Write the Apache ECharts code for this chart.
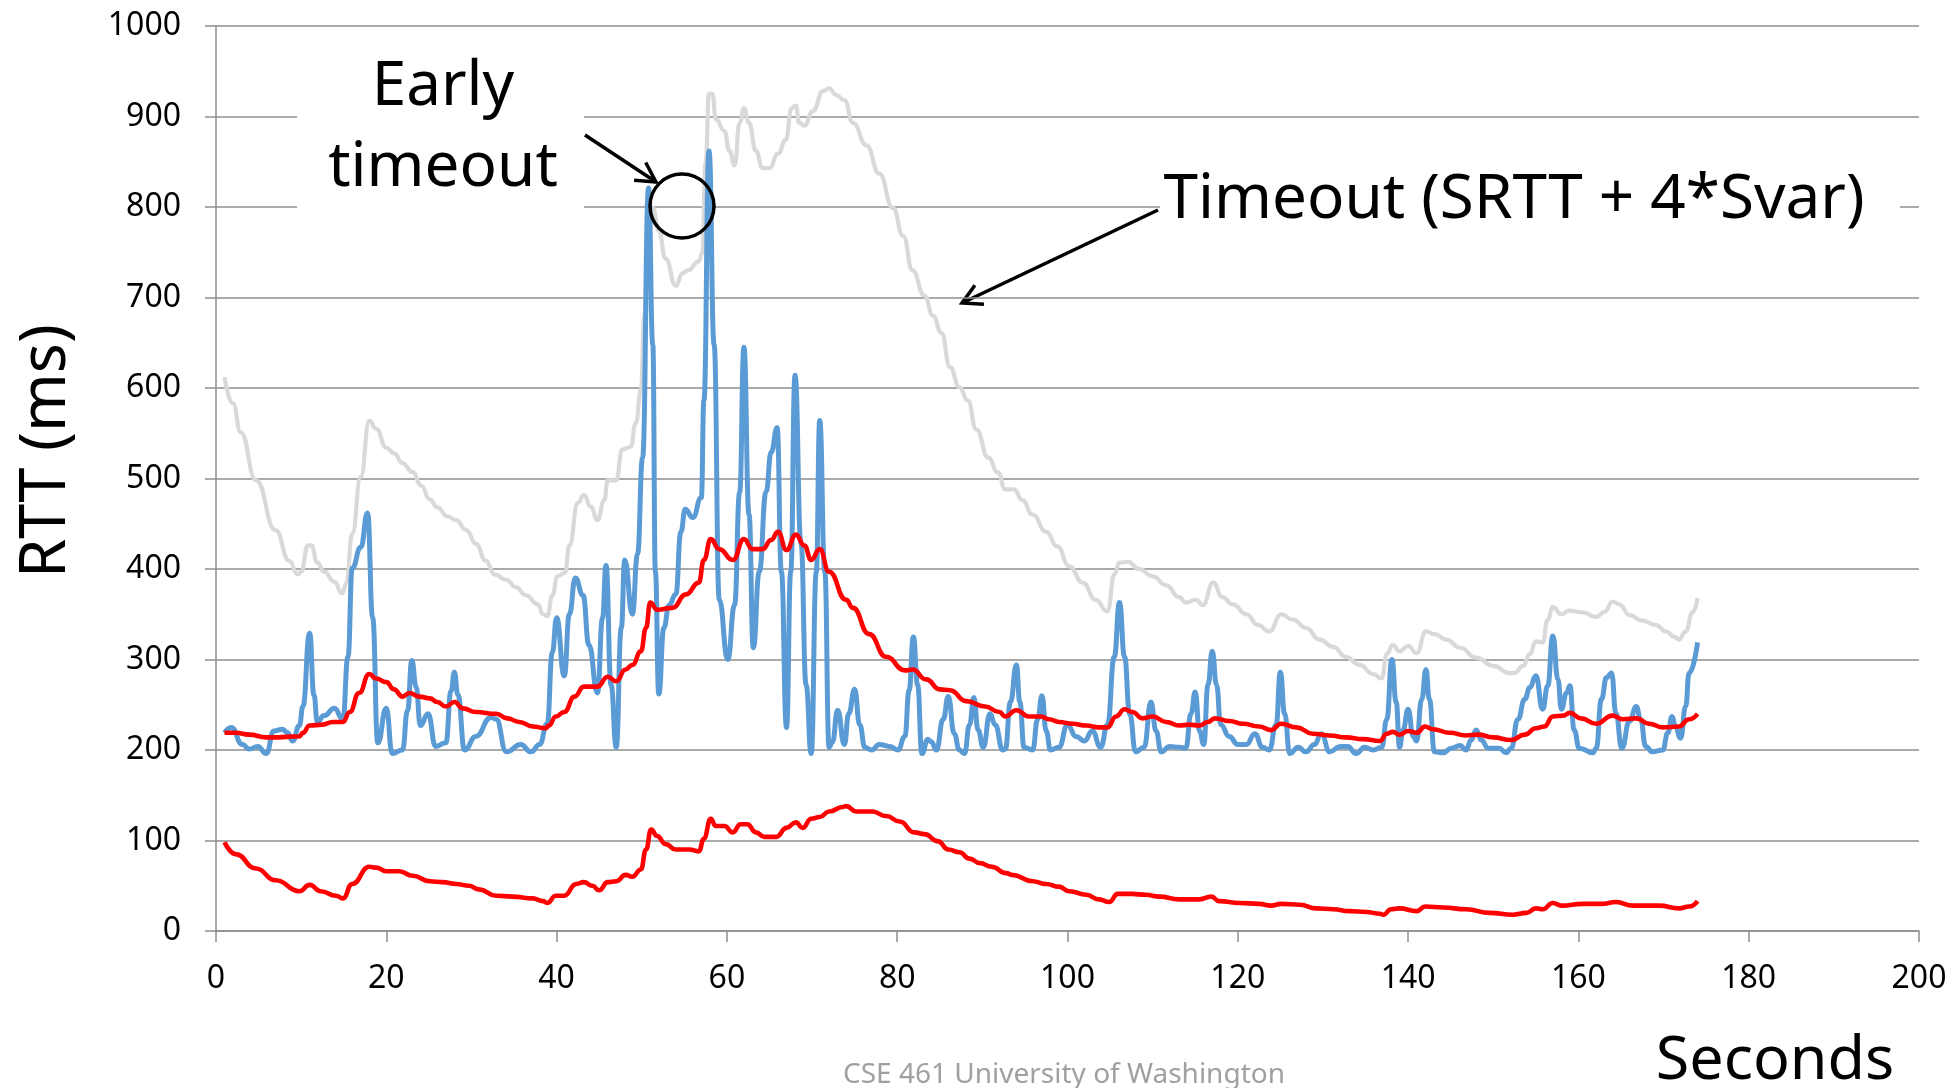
<!DOCTYPE html>
<html>
<head>
<meta charset="utf-8">
<title>RTT, SRTT and timeout</title>
<script src="https://cdn.jsdelivr.net/npm/echarts@6/dist/echarts.min.js"></script>
<style>
  html, body { margin: 0; padding: 0; background: #fff; }
  #chart { width: 1956px; height: 1088px; }
</style>
</head>
<body>
<div id="chart"></div>
<script>
// [seconds, ms]
const sampleRtt = [
  [1.0,219],[1.8,225],[3.1,206],[3.9,201],[4.9,204],[5.9,196],[6.8,221],[7.8,223],[8.4,219],[9.0,210],
  [9.8,227],[10.2,248],[11.0,329],[11.5,261],[11.9,231],[12.7,238],[13.9,246],[14.9,234],[15.5,303],[16.0,401],
  [17.0,424],[17.8,462],[18.4,346],[19.0,208],[20.0,246],[20.7,196],[21.9,200],[22.5,244],[23.0,299],[23.5,270],
  [24.0,227],[24.9,240],[25.8,204],[27.0,208],[27.6,265],[28.0,286],[28.4,261],[29.2,200],[30.5,215],[32.3,236],
  [32.9,234],[34.1,198],[35.8,206],[37.0,198],[38.0,206],[38.9,229],[39.5,308],[40.0,346],[40.9,282],[41.5,350],
  [42.2,390],[43.1,371],[43.8,316],[44.8,263],[45.4,346],[45.8,404],[46.4,272],[47.0,203],[47.6,335],[48.0,410],
  [48.9,350],[49.5,416],[50.1,523],[50.8,821],[51.3,648],[51.6,397],[52.0,262],[52.6,335],[53.2,360],[54.0,372],
  [54.6,441],[55.1,466],[56.0,457],[57.0,479],[57.3,586],[57.9,862],[58.5,648],[59.1,366],[60.1,300],[60.9,360],
  [61.5,485],[62.0,645],[62.6,460],[63.1,313],[63.8,397],[64.6,485],[65.2,529],[65.9,556],[66.4,397],[67.0,225],
  [67.5,397],[68.0,614],[68.7,429],[69.3,272],[69.9,196],[70.5,397],[70.9,564],[71.5,397],[72.0,203],[72.4,209],
  [73.0,244],[73.8,206],[74.3,240],[75.0,267],[75.6,228],[76.2,203],[77.0,200],[77.9,206],[79.1,204],[80.1,200],
  [80.9,215],[81.4,266],[81.9,325],[82.4,272],[82.9,196],[83.6,212],[84.0,209],[84.6,200],[85.4,234],[86.0,259],
  [86.7,218],[87.3,200],[87.9,196],[88.5,228],[89.0,258],[89.5,222],[90.1,203],[90.9,240],[91.5,228],[92.4,200],
  [92.7,201],[93.3,253],[94.0,294],[94.4,253],[94.9,203],[95.9,200],[96.5,234],[97.0,260],[97.5,221],[98.0,200],
  [99.0,203],[100.0,228],[101.0,215],[102.0,210],[102.9,221],[103.9,203],[104.7,228],[105.5,303],[106.1,363],[106.7,303],
  [107.3,240],[108.0,198],[109.0,203],[109.8,253],[110.4,221],[111.0,198],[112.0,204],[113.1,203],[113.9,202],[114.5,240],
  [115.0,264],[115.5,221],[116.0,206],[116.5,272],[117.0,309],[117.5,272],[118.0,228],[119.0,215],[120.0,206],[121.0,206],
  [122.0,218],[122.9,203],[123.7,200],[124.5,228],[125.0,286],[125.5,240],[126.1,196],[127.1,203],[128.0,198],[129.0,206],
  [129.8,218],[130.8,198],[132.0,204],[132.9,204],[133.9,196],[134.9,203],[135.9,200],[136.9,203],[137.5,234],[138.1,300],
  [138.6,253],[139.0,203],[139.4,222],[140.0,245],[140.6,215],[141.0,210],[141.6,256],[142.1,289],[142.5,256],[143.1,198],
  [144.1,197],[145.1,202],[146.1,205],[146.8,200],[147.4,211],[148.0,222],[148.6,211],[149.4,202],[150.7,202],[151.5,197],
  [152.1,202],[152.9,234],[153.7,256],[154.3,269],[155.0,282],[155.8,245],[156.4,271],[157.0,326],[157.6,278],[158.0,245],
  [158.6,263],[159.0,271],[159.5,222],[160.1,202],[161.7,197],[162.1,202],[162.7,256],[163.3,280],[163.9,285],[164.4,241],
  [165.1,202],[166.0,232],[166.8,248],[167.3,234],[167.9,204],[168.7,198],[169.9,200],[170.5,219],[171.0,237],[171.4,226],
  [172.0,213],[172.6,248],[173.0,285],[174.0,319]
];

const timeout = [
  [1.0,612],[2.0,583],[2.9,551],[4.7,498],[7.0,443],[8.6,409],[9.6,394],[10.0,397],[10.8,426],[11.2,426],
  [11.9,407],[12.7,397],[13.9,386],[14.8,373],[15.3,384],[16.0,439],[17.0,502],[18.0,564],[18.8,555],[20.0,534],
  [20.9,528],[21.9,517],[23.1,507],[24.1,492],[25.1,477],[26.0,468],[27.2,458],[28.2,454],[29.4,443],[30.5,428],
  [31.7,409],[32.7,394],[34.1,388],[35.2,380],[36.4,371],[37.8,361],[38.4,350],[38.9,348],[39.5,371],[40.1,392],
  [41.0,396],[41.5,426],[42.5,473],[43.2,482],[44.0,469],[44.8,454],[45.6,476],[46.0,498],[47.0,498],[47.7,532],
  [48.7,535],[49.3,561],[49.9,598],[50.3,680],[50.8,793],[51.3,799],[52.0,774],[52.8,743],[54.0,713],[54.8,727],
  [55.4,730],[56.7,740],[57.1,749],[57.5,849],[57.9,925],[58.3,925],[58.7,897],[59.7,884],[60.3,862],[60.9,846],
  [61.5,893],[62.0,909],[62.6,893],[63.4,862],[64.2,843],[65.0,843],[66.0,859],[66.9,874],[67.6,909],[68.1,912],
  [68.5,893],[69.1,890],[70.1,906],[71.3,928],[72.0,931],[72.8,924],[73.8,918],[74.8,893],[76.4,868],[77.9,837],
  [79.5,799],[80.7,768],[81.8,730],[83.2,702],[84.2,680],[85.2,661],[86.2,623],[87.3,601],[88.3,586],[89.3,554],
  [90.7,523],[91.8,507],[92.7,488],[93.7,488],[94.7,476],[95.9,460],[97.5,441],[98.8,425],[100.2,403],[101.8,385],
  [103.3,366],[104.7,353],[105.5,394],[106.1,407],[107.1,408],[108.4,400],[110.0,392],[111.6,382],[113.1,369],[113.9,363],
  [115.1,366],[115.9,360],[117.1,385],[118.2,369],[119.4,361],[121.0,350],[122.4,338],[123.7,331],[125.1,350],[126.5,344],
  [128.0,335],[129.6,322],[131.2,314],[132.7,303],[134.3,294],[135.9,284],[136.9,279],[137.5,306],[138.2,316],[139.0,309],
  [140.0,315],[141.0,307],[142.1,331],[143.1,328],[144.5,322],[146.1,313],[148.0,302],[150.0,293],[151.9,285],[152.5,285],
  [153.5,293],[154.3,306],[155.0,320],[155.8,319],[156.4,344],[157.0,358],[158.0,350],[158.9,354],[160.5,352],[162.1,347],
  [163.1,353],[164.0,364],[164.8,361],[166.0,349],[167.5,343],[169.1,338],[170.3,331],[171.3,325],[171.8,322],[172.6,331],
  [173.4,352],[174.0,368]
];

const srtt = [
  [1.0,219],[2.3,219],[3.9,217],[5.9,214],[7.4,214],[9.0,215],[9.8,215],[10.2,219],[11.0,227],[12.5,228],
  [13.7,231],[14.9,231],[15.7,242],[16.8,263],[18.0,284],[18.8,279],[20.0,275],[20.9,267],[21.9,259],[22.7,263],
  [23.9,259],[25.1,257],[26.0,253],[27.0,248],[28.0,253],[29.0,246],[30.5,242],[32.9,240],[34.2,235],[35.6,231],
  [37.2,226],[38.7,224],[39.1,227],[39.9,237],[40.9,242],[42.1,259],[43.2,270],[44.8,270],[46.0,281],[47.0,276],
  [48.1,289],[48.9,294],[49.9,309],[50.5,335],[51.0,363],[51.8,355],[53.6,357],[55.2,372],[56.7,385],[57.3,410],
  [58.1,433],[59.1,422],[60.7,410],[62.0,433],[63.0,422],[64.2,422],[65.2,432],[66.0,441],[67.0,421],[68.1,438],
  [69.1,426],[69.9,410],[70.9,422],[72.0,397],[74.0,366],[74.8,357],[76.7,328],[78.7,303],[80.9,288],[81.8,289],
  [83.4,278],[85.0,267],[86.2,266],[88.1,254],[90.3,248],[92.0,242],[92.7,237],[94.0,244],[95.5,237],[96.9,237],
  [97.8,234],[99.0,231],[100.6,229],[102.2,227],[103.7,225],[104.7,225],[105.7,237],[106.7,245],[107.6,242],[108.8,235],
  [110.0,237],[111.6,231],[113.1,227],[114.3,228],[115.5,227],[116.5,231],[117.3,235],[119.0,232],[120.6,229],[122.5,226],
  [123.9,222],[125.1,229],[126.9,225],[128.8,218],[130.8,216],[132.7,214],[134.7,212],[136.7,210],[137.5,218],[138.2,220],
  [139.0,217],[140.0,221],[141.0,219],[142.0,226],[142.9,223],[144.9,219],[146.8,216],[148.2,217],[150.0,214],[152.1,211],
  [153.7,217],[155.0,224],[156.0,226],[157.0,237],[158.2,238],[159.0,241],[160.3,235],[162.1,229],[164.0,238],[165.2,234],
  [166.8,235],[168.3,229],[169.9,225],[171.8,226],[173.0,234],[174.0,240]
];

const svar = [
  [1.0,98],[2.3,85],[4.7,69],[7.0,56],[9.8,44],[11.0,51],[12.3,44],[14.1,39],[14.9,36],[16.0,52],
  [18.0,71],[18.8,70],[20.0,66],[21.5,66],[23.1,61],[25.1,55],[26.6,54],[28.2,52],[29.7,50],[30.9,46],
  [32.9,39],[34.8,38],[37.2,36],[38.4,33],[38.9,31],[39.9,39],[40.9,39],[42.3,52],[43.2,54],[44.2,50],
  [45.0,45],[46.0,54],[47.0,55],[48.1,62],[48.9,60],[49.9,68],[50.5,90],[51.1,112],[51.8,105],[52.8,96],
  [54.0,90],[55.6,90],[56.7,88],[57.3,102],[58.1,124],[58.7,116],[59.7,116],[60.7,109],[61.6,118],[62.4,118],
  [63.4,109],[64.4,104],[65.8,104],[67.0,114],[68.1,120],[68.9,114],[69.9,124],[70.9,126],[72.0,132],[73.6,137],
  [74.0,138],[75.2,132],[77.1,132],[78.7,127],[80.3,121],[82.0,109],[83.2,107],[84.8,99],[86.0,90],[87.3,87],
  [88.5,80],[89.7,75],[91.1,71],[92.8,64],[93.5,62],[95.9,55],[97.5,52],[99.0,49],[100.2,44],[102.2,40],
  [103.7,35],[104.9,32],[105.9,41],[107.6,41],[109.2,40],[110.8,38],[113.1,35],[115.5,35],[116.9,38],[117.8,33],
  [120.2,31],[122.5,30],[123.9,28],[125.1,30],[127.3,29],[129.2,25],[131.2,24],[133.1,22],[135.1,21],[136.7,19],
  [137.1,18],[138.0,24],[139.0,25],[141.0,22],[142.0,27],[144.1,26],[146.8,24],[149.6,20],[152.3,18],[153.9,20],
  [155.0,25],[155.8,24],[157.0,31],[158.0,28],[160.5,30],[162.7,30],[164.4,32],[166.4,28],[169.5,28],[171.8,25],
  [173.0,27],[174.0,33]
];

const xRange = [0, 200];
const yRange = [0, 1000];

const font = '"Noto Sans", "DejaVu Sans", sans-serif';
const gridColor = '#8e8e8e';

function arrow(x1, y1, x2, y2) {
  const a = Math.atan2(y2 - y1, x2 - x1);
  const len = 22, spread = 0.5;
  const head = s => [x2 - len * Math.cos(a + s), y2 - len * Math.sin(a + s)];
  return {
    type: 'group', z: 100,
    children: [
      { type: 'line', shape: { x1, y1, x2, y2 }, style: { stroke: '#000', lineWidth: 3.5 } },
      { type: 'polyline', shape: { points: [head(spread), [x2, y2], head(-spread)] },
        style: { stroke: '#000', lineWidth: 3.5, fill: null } }
    ]
  };
}

function lineSeries(name, data, color, width) {
  return {
    name, type: 'line', data,
    symbol: 'none', smooth: 0.5, smoothMonotone: 'x',
    lineStyle: { color, width },
    emphasis: { disabled: true },
    animation: false
  };
}

const chart = echarts.init(document.getElementById('chart'));
chart.setOption({
  backgroundColor: '#fff',
  animation: false,
  grid: { left: 216, right: 37, top: 26, bottom: 157 },
  xAxis: {
    type: 'value', min: xRange[0], max: xRange[1], interval: 20,
    axisLine: { lineStyle: { color: gridColor, width: 1.5 } },
    axisTick: { show: true, length: 11, lineStyle: { color: gridColor, width: 1.5 } },
    axisLabel: { color: '#000', fontFamily: font, fontSize: 32, margin: 32 },
    splitLine: { show: false }
  },
  yAxis: {
    type: 'value', min: yRange[0], max: yRange[1], interval: 100,
    axisLine: { show: true, lineStyle: { color: gridColor, width: 1.5 } },
    axisTick: { show: true, length: 11, lineStyle: { color: gridColor, width: 1.5 } },
    axisLabel: { color: '#000', fontFamily: font, fontSize: 32, margin: 35, formatter: v => String(v) },
    splitLine: { show: true, lineStyle: { color: gridColor, width: 1.5 } }
  },
  series: [
    lineSeries('Timeout', timeout, '#d9d9d9', 4.2),
    lineSeries('Sample RTT', sampleRtt, '#5b9bd5', 5),
    lineSeries('SRTT', srtt, '#ff0000', 4.6),
    lineSeries('Svar', svar, '#ff0000', 4.6)
  ],
  graphic: [
    { type: 'text', z: 100, x: 47, y: 451, rotation: Math.PI / 2,
      style: { text: 'RTT (ms)', fontFamily: font, fontSize: 63, fill: '#000', align: 'center', verticalAlign: 'middle' } },
    { type: 'rect', z: 99, shape: { x: 297, y: 40, width: 287, height: 178 }, style: { fill: '#fff' } },
    { type: 'text', z: 100, x: 443, y: 87,
      style: { text: 'Early', fontFamily: font, fontSize: 62, fill: '#000', align: 'center', verticalAlign: 'middle' } },
    { type: 'text', z: 100, x: 443, y: 168,
      style: { text: 'timeout', fontFamily: font, fontSize: 62, fill: '#000', align: 'center', verticalAlign: 'middle' } },
    arrow(585, 135, 656, 182),
    { type: 'circle', z: 100, shape: { cx: 682, cy: 206, r: 32 },
      style: { fill: null, stroke: '#000', lineWidth: 3.5 } },
    { type: 'rect', z: 99, shape: { x: 1160, y: 160, width: 740, height: 86 }, style: { fill: '#fff' } },
    { type: 'text', z: 100, x: 1514, y: 200,
      style: { text: 'Timeout (SRTT + 4*Svar)', fontFamily: font, fontSize: 62, fill: '#000', align: 'center', verticalAlign: 'middle' } },
    arrow(1158, 210, 962, 303),
    { type: 'text', z: 100, x: 1775, y: 1062,
      style: { text: 'Seconds', fontFamily: font, fontSize: 61, fill: '#000', align: 'center', verticalAlign: 'middle' } },
    { type: 'text', z: 100, x: 1064, y: 1075,
      style: { text: 'CSE 461 University of Washington', fontFamily: font, fontSize: 28, fill: '#a0a0a0', align: 'center', verticalAlign: 'middle' } }
  ]
});
</script>
</body>
</html>
